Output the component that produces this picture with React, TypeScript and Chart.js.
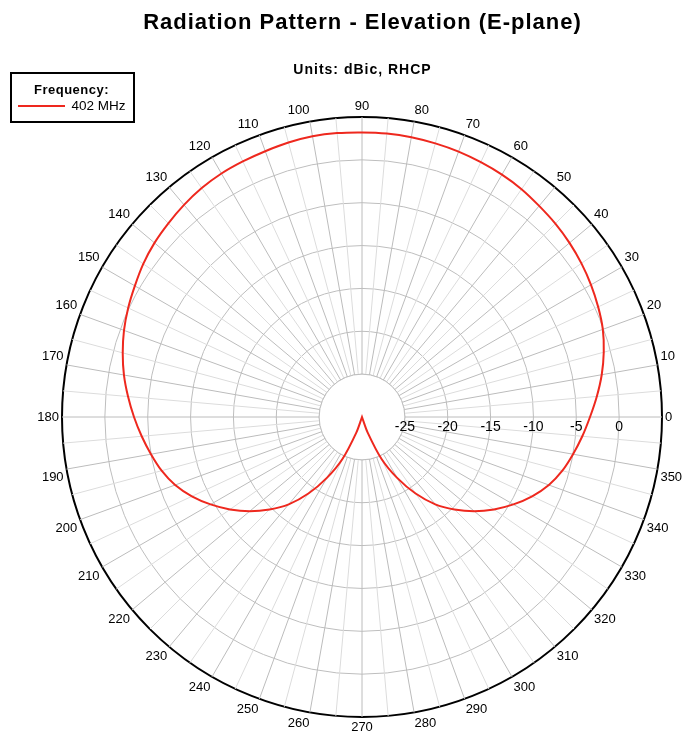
import React, { useEffect, useRef } from 'react';
import { Chart, registerables } from 'chart.js';

Chart.register(...registerables);

const FONT = "'Liberation Sans', Arial, Helvetica, sans-serif";
const TITLE = 'Radiation Pattern - Elevation (E-plane)';
const SUBTITLE = 'Units: dBic, RHCP';
const LEGEND_TITLE = 'Frequency:';
const SERIES_LABEL = '402 MHz';
const SERIES_COLOR = 'rgb(238,40,30)';

// elevation angle (deg), counter-clockwise from the right-hand horizontal
const angles = [
  0, 5, 10, 15, 20, 25, 30, 35, 40, 45, 50, 55,
  60, 65, 70, 75, 80, 85, 90, 95, 100, 105, 110, 115,
  120, 125, 130, 135, 140, 145, 150, 155, 160, 165, 170, 175,
  180, 185, 190, 195, 200, 205, 210, 215, 220, 225, 230, 235,
  240, 245, 250, 255, 260, 265, 270, 275, 280, 285, 290, 295,
  300, 305, 310, 315, 320, 325, 330, 335, 340, 345, 350, 355,
];

// gain (dBic, RHCP) at each angle above
const gain = [
  -3.4, -2.5, -1.6, -0.8, -0.1, 0.4, 0.85, 1.25, 1.6, 1.9, 2.15, 2.45,
  2.65, 2.8, 2.95, 3.05, 3.15, 3.2, 3.2, 3.25, 3.25, 3.15, 3.0, 2.9,
  2.8, 2.6, 2.3, 1.95, 1.6, 1.15, 0.6, 0.1, -0.45, -1.1, -1.8, -2.6,
  -3.4, -4.2, -5.0, -5.8, -6.8, -8.1, -9.6, -11.2, -12.9, -14.75, -16.7, -19.1,
  -21.8, -24.6, -28.1, -30, -30, -30, -30, -30, -30, -30, -28.1, -24.6,
  -21.8, -19.1, -16.7, -14.75, -12.9, -11.2, -9.6, -8.1, -6.8, -5.8, -5.0, -4.2,
];

// radial scale (dB)
const R_MIN = -30;
const R_MAX = 5;
const R_STEP = 5;
const radialTickLabels = [-25, -20, -15, -10, -5, 0];
const ANGLE_LABEL_STEP = 10;

// radar scale runs clockwise from its start; reorder so angles run counter-clockwise
const order = angles.map((_, k) => (angles.length - k) % angles.length);
const radarLabels = order.map((i) => angles[i]);
const radarData = order.map((i) => gain[i]);

const GRID_COLOR = '#bebebe';
const ANGLE_MAJOR = '#bcbcbc';
const ANGLE_MINOR = '#dcdcdc';
const TEXT_COLOR = '#000';

const decorPlugin = {
  id: 'polarDecor',
  beforeDraw(chart: any) {
    (chart.ctx as any).letterSpacing = '1px';
  },
  beforeDatasetsDraw(chart: any) {
    const s = chart.scales.r;
    const ctx = chart.ctx;
    ctx.save();
    (ctx as any).letterSpacing = '0px';
    // inner hole
    const r0 = s.getDistanceFromCenterForValue(radialTickLabels[0]);
    ctx.beginPath();
    ctx.arc(s.xCenter, s.yCenter, r0, 0, Math.PI * 2);
    ctx.fillStyle = '#fff';
    ctx.fill();
    ctx.lineWidth = 1;
    ctx.strokeStyle = GRID_COLOR;
    ctx.stroke();

    // radial tick labels along the 0 deg axis
    ctx.fillStyle = TEXT_COLOR;
    ctx.font = `14px ${FONT}`;
    ctx.textAlign = 'center';
    ctx.textBaseline = 'middle';
    radialTickLabels.forEach((v) => {
      const d = s.getDistanceFromCenterForValue(v);
      ctx.fillText(String(v), s.xCenter + d, s.yCenter + 10);
    });

    // angle labels (Chart.js point-label placement rules)
    const size = 13;
    const lh = size * 1.2;
    ctx.font = `${size}px ${FONT}`;
    const pad = 3;
    for (let i = 0; i < radarLabels.length; i++) {
      const a = radarLabels[i];
      if (a % ANGLE_LABEL_STEP !== 0) continue;
      const text = String(a);
      const pos = s.getPointPosition(i, s.drawingArea + pad);
      const deg = Math.round((s.getIndexAngle(i) * 180) / Math.PI) % 360;
      let align: CanvasTextAlign = 'left';
      if (deg === 0 || deg === 180) align = 'center';
      else if (deg > 180) align = 'right';
      let top = pos.y;
      if (deg === 90 || deg === 270) top -= lh / 2;
      else if (deg > 270 || deg < 90) top -= lh;
      ctx.textAlign = align;
      ctx.fillText(text, pos.x, top + lh / 2);
    }
    ctx.restore();
  },
  afterDraw(chart: any) {
    const ctx = chart.ctx;
    const ds = chart.data.datasets[0];
    ctx.save();
    (ctx as any).letterSpacing = '0px';
    ctx.lineWidth = 2;
    ctx.strokeStyle = '#000';
    ctx.strokeRect(11, 73, 123, 49);
    (ctx as any).letterSpacing = '0.5px';
    ctx.font = `bold 13px ${FONT}`;
    ctx.fillStyle = TEXT_COLOR;
    ctx.textAlign = 'center';
    ctx.textBaseline = 'middle';
    ctx.fillText(LEGEND_TITLE, 71.5, 90.5);
    (ctx as any).letterSpacing = '0px';
    ctx.strokeStyle = ds.borderColor;
    ctx.lineWidth = 2;
    ctx.beginPath();
    ctx.moveTo(18, 106);
    ctx.lineTo(65, 106);
    ctx.stroke();
    ctx.font = `13.5px ${FONT}`;
    ctx.textAlign = 'left';
    ctx.fillText(ds.label, 71.5, 106.5);
    ctx.restore();
  },
};

export default function App() {
  const ref = useRef<HTMLCanvasElement | null>(null);

  useEffect(() => {
    if (!ref.current) return;
    const chart = new Chart(ref.current, {
      type: 'radar',
      data: {
        labels: radarLabels,
        datasets: [
          {
            label: SERIES_LABEL,
            data: radarData,
            borderColor: SERIES_COLOR,
            backgroundColor: SERIES_COLOR,
            borderWidth: 2,
            fill: false,
            pointRadius: 0,
            pointHoverRadius: 0,
            tension: 0.3,
          },
        ],
      },
      options: {
        responsive: false,
        animation: false,
        events: [],
        layout: { padding: { left: 40, right: 0, top: 0, bottom: 17 } },
        plugins: {
          legend: { display: false },
          tooltip: { enabled: false },
          title: {
            display: true,
            text: TITLE,
            fullSize: false,
            color: TEXT_COLOR,
            font: { family: FONT, size: 22, weight: 'bold' },
            padding: { top: 10, bottom: 0 },
          },
          subtitle: {
            display: true,
            text: SUBTITLE,
            fullSize: false,
            color: TEXT_COLOR,
            font: { family: FONT, size: 14, weight: 'bold' },
            padding: { top: 25.2, bottom: 38.6 },
          },
        },
        scales: {
          r: {
            min: R_MIN,
            max: R_MAX,
            startAngle: 90,
            ticks: { display: false, stepSize: R_STEP },
            pointLabels: { display: false },
            grid: {
              circular: true,
              color: (c: any) => (c.tick && c.tick.value === R_MAX ? '#000' : GRID_COLOR),
              lineWidth: (c: any) => (c.tick && c.tick.value === R_MAX ? 2 : 1),
            },
            angleLines: {
              display: true,
              color: (c: any) => (radarLabels[c.index] % ANGLE_LABEL_STEP === 0 ? ANGLE_MAJOR : ANGLE_MINOR),
              lineWidth: 1,
            },
          },
        },
      } as any,
      plugins: [decorPlugin],
    });
    return () => chart.destroy();
  }, []);

  return (
    <div style={{ position: 'absolute', left: 0, top: 0, width: 685, height: 734, background: '#fff' }}>
      <canvas ref={ref} width={685} height={734} style={{ display: 'block', width: 685, height: 734 }} />
    </div>
  );
}
